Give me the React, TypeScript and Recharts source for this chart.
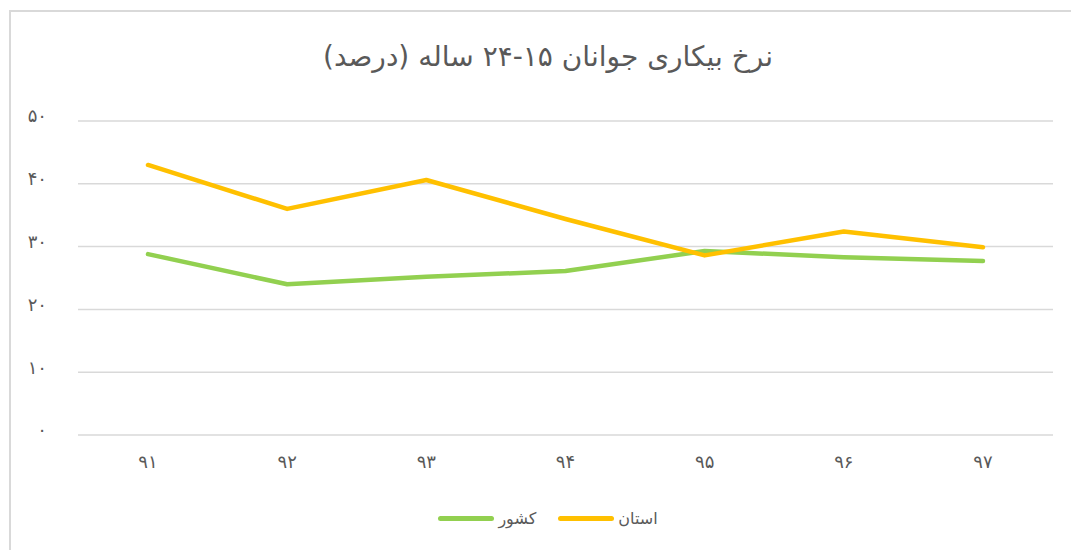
import { LineChart, Line, XAxis, YAxis, CartesianGrid } from "recharts";

const years = ["۹۱", "۹۲", "۹۳", "۹۴", "۹۵", "۹۶", "۹۷"];
const country = [28.8, 24.0, 25.2, 26.1, 29.3, 28.3, 27.7];
const province = [43.0, 36.0, 40.6, 34.4, 28.6, 32.4, 29.9];
const yTicks = [0, 10, 20, 30, 40, 50];

const SERIES = [
  { key: "country", label: "کشور", color: "#92D050" },
  { key: "province", label: "استان", color: "#FFC000" },
];

const data = years.map((year, i) => ({
  year,
  country: country[i],
  province: province[i],
}));

const FONT = "'DejaVu Sans', sans-serif";
const TEXT = "#595959";

const toPersian = (n: number) =>
  String(n).replace(/\d/g, (d) => "۰۱۲۳۴۵۶۷۸۹"[Number(d)]);

function LegendBox() {
  return (
    <div
      style={{
        position: "absolute",
        left: 0,
        top: 509,
        width: 1096,
        display: "flex",
        justifyContent: "center",
        alignItems: "center",
        gap: 22,
        fontFamily: FONT,
        fontSize: 16,
        color: TEXT,
      }}
    >
      {SERIES.map((s) => (
        <div key={s.key} style={{ display: "flex", alignItems: "center", gap: 4 }}>
          <span
            style={{
              display: "inline-block",
              width: 56,
              height: 5,
              borderRadius: 3,
              background: s.color,
            }}
          />
          <span>{s.label}</span>
        </div>
      ))}
    </div>
  );
}

export default function App() {
  return (
    <div style={{ position: "absolute", left: 0, top: 0, width: 1071, height: 550, background: "#fff" }}>
      <div
        style={{
          position: "absolute",
          left: 9,
          top: 10,
          width: 1062,
          height: 540,
          boxSizing: "border-box",
          borderTop: "2px solid #d9d9d9",
          borderLeft: "2px solid #d9d9d9",
        }}
      />
      <div
        style={{
          position: "absolute",
          left: 0,
          top: 40,
          width: 1096,
          textAlign: "center",
          fontFamily: FONT,
          fontSize: 28,
          color: TEXT,
          direction: "rtl",
        }}
      >
        نرخ بیکاری جوانان ۱۵-۲۴ ساله (درصد)
      </div>
      <div style={{ position: "absolute", left: 0, top: 0 }}>
        <LineChart
          width={1071}
          height={550}
          data={data}
          margin={{ top: 121, right: 18, bottom: 85, left: 18 }}
        >
          <CartesianGrid vertical={false} stroke="#d9d9d9" strokeWidth={1.5} />
          <XAxis
            dataKey="year"
            axisLine={false}
            tickLine={false}
            tickMargin={14}
            height={30}
            padding={{ left: 70, right: 70 }}
            tick={{ fontSize: 18, fill: TEXT, fontFamily: FONT }}
          />
          <YAxis
            domain={[0, 50]}
            ticks={yTicks}
            width={60}
            axisLine={false}
            tickLine={false}
            tickMargin={25}
            tickFormatter={toPersian}
            tick={{ fontSize: 18, fill: TEXT, fontFamily: FONT, dy: -5 }}
          />
          {SERIES.map((s) => (
            <Line
              key={s.key}
              dataKey={s.key}
              name={s.label}
              stroke={s.color}
              strokeWidth={4.5}
              strokeLinecap="round"
              strokeLinejoin="round"
              dot={false}
              activeDot={false}
              isAnimationActive={false}
            />
          ))}
        </LineChart>
      </div>
      <LegendBox />
    </div>
  );
}
